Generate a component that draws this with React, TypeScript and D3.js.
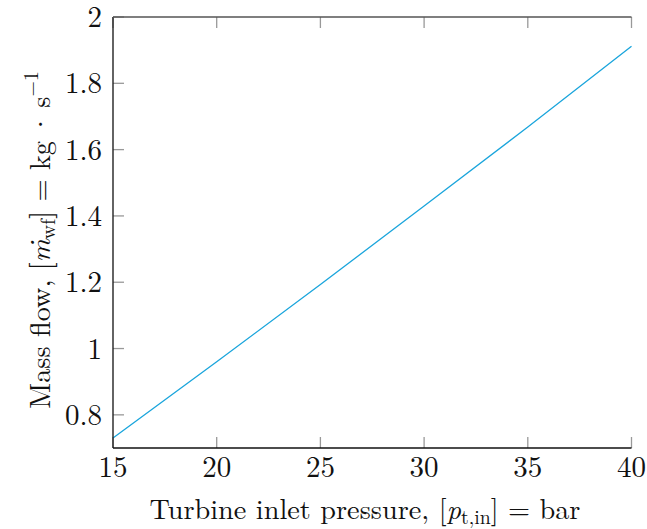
import React from "react";
import * as d3 from "d3";

const pressure = [15, 20, 25, 30, 35, 40];
const massFlow = [0.73, 0.96, 1.193, 1.43, 1.668, 1.912];
const xTicks = [15, 20, 25, 30, 35, 40];
const yTicks = [0.8, 1, 1.2, 1.4, 1.6, 1.8, 2];

const W = 647;
const H = 529;
const left = 113;
const right = 631.5;
const top = 17;
const bottom = 448;
const FONT = "'Latin Modern Roman', 'Liberation Serif', 'DejaVu Serif', serif";
const FS = 29;
const LFS = 28.3;

export default function App() {
  const x = d3.scaleLinear().domain([15, 40]).range([left, right]);
  const y = d3.scaleLinear().domain([0.7, 2]).range([bottom, top]);
  const line = d3
    .line<number>()
    .x((_, i) => x(pressure[i]))
    .y((d) => y(d));
  const tickLen = 11;
  return (
    <svg
      width={W}
      height={H}
      style={{ position: "absolute", left: 0, top: 0, background: "#fff" }}
      fontFamily={FONT}
    >
      <rect x={0} y={0} width={W} height={H} fill="#fff" />
      {xTicks.map((t) => (
        <g key={"xt" + t}>
          <line x1={x(t)} x2={x(t)} y1={bottom} y2={bottom - tickLen} stroke="#999" strokeWidth={1.3} />
          <line x1={x(t)} x2={x(t)} y1={top} y2={top + tickLen} stroke="#999" strokeWidth={1.3} />
          <text x={x(t)} y={476.5} fontSize={FS} textAnchor="middle" fill="#111">
            {t}
          </text>
        </g>
      ))}
      {yTicks.map((t) => (
        <g key={"yt" + t}>
          <line x1={left} x2={left + tickLen} y1={y(t)} y2={y(t)} stroke="#999" strokeWidth={1.3} />
          <text x={102} y={y(t) + 10} fontSize={FS} textAnchor="end" fill="#111">
            {t}
          </text>
        </g>
      ))}
      <path d={line(massFlow) || ""} fill="none" stroke="#1aa5dc" strokeWidth={1.3} />
      <line x1={left} x2={left} y1={top} y2={bottom} stroke="#222" strokeWidth={1.4} />
      <line x1={left} x2={right} y1={bottom} y2={bottom} stroke="#111" strokeWidth={1.4} />
      <line x1={left} x2={right} y1={top} y2={top} stroke="#555" strokeWidth={1.4} />
      <text x={365} y={519} fontSize={LFS} textAnchor="middle" fill="#111">
        Turbine inlet pressure, [
        <tspan fontStyle="italic">p</tspan>
        <tspan fontSize={LFS * 0.7} dy={5}>t,in</tspan>
        <tspan dy={-5}>] = bar</tspan>
      </text>
      <text
        transform="translate(50,240) rotate(-90)"
        fontSize={LFS}
        textAnchor="middle"
        fill="#111"
      >
        Mass flow, [
        <tspan fontStyle="italic">ṁ</tspan>
        <tspan fontSize={LFS * 0.7} dy={5}>wf</tspan>
        <tspan dy={-5}>{"] = kg\u2009·\u2009s"}</tspan>
        <tspan fontSize={LFS * 0.7} dy={-12}>−1</tspan>
      </text>
    </svg>
  );
}
